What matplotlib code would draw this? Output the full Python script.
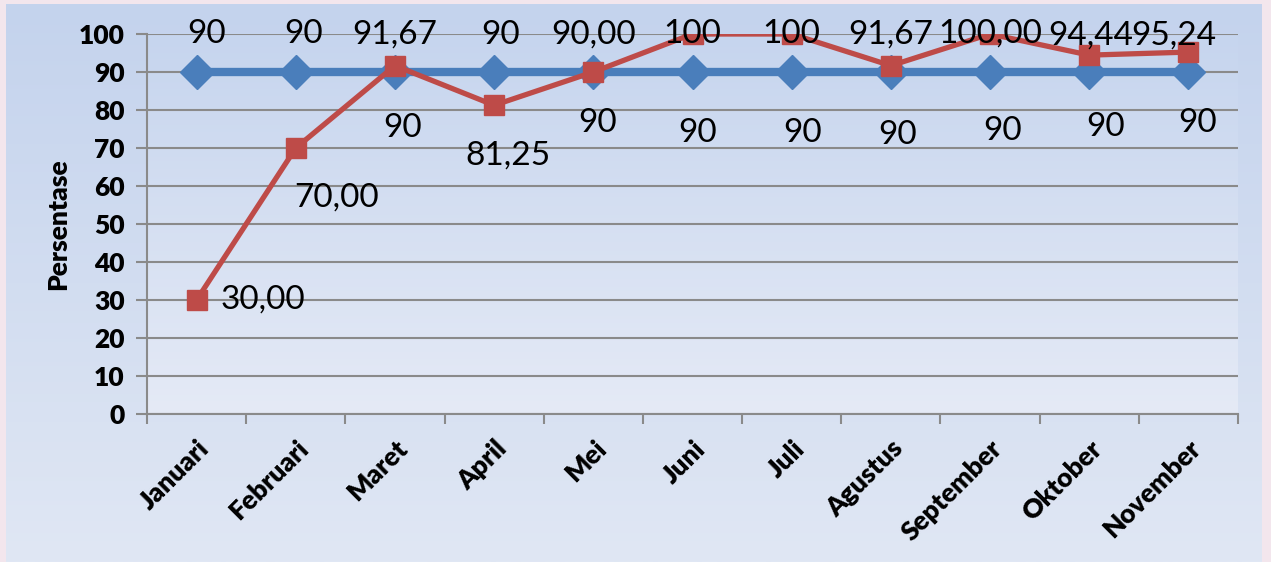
import matplotlib.pyplot as plt
import numpy as np

# data
bulan = ["Januari", "Februari", "Maret", "April", "Mei", "Juni", "Juli",
         "Agustus", "September", "Oktober", "November"]
target = [90, 90, 90, 90, 90, 90, 90, 90, 90, 90, 90]
capaian = [30.00, 70.00, 91.67, 81.25, 90.00, 100, 100, 91.67, 100.00, 94.44, 95.24]
label_target = ["90"] * 11
label_capaian = ["30,00", "70,00", "91,67", "81,25", "90,00", "100", "100",
                 "91,67", "100,00", "94,44", "95,24"]

# label offsets in pixels (style only)
off_target = [(10, 38), (8, 38), (8, -56), (6, 37), (4, -51), (5, -61),
              (11, -61), (7, -63), (13, -59), (16, -55), (9, -51)]
off_capaian = [(66, 0), (41, -50), (0, 31), (14, -50), (0, 37), (0, 0),
               (0, 0), (0, 31), (0, 0), (2, 20), (-15, 17)]

plt.rcParams['font.family'] = ['Lato', 'DejaVu Sans']

fig = plt.figure(figsize=(12.71, 5.62), dpi=100)
fig.patch.set_facecolor('#f3e6ed')

# chart background gradient
bg = fig.add_axes([6 / 1271, 0, 1256 / 1271, 558 / 562], zorder=-10)
grad = np.linspace(0, 1, 256).reshape(-1, 1)
c_top = np.array([196, 211, 237]) / 255
c_bot = np.array([224, 231, 244]) / 255
img = c_top + (c_bot - c_top) * grad[:, :, None]
bg.imshow(img, aspect='auto', extent=[0, 1, 0, 1])
bg.axis('off')

ax = fig.add_axes([147 / 1271, 1 - 414 / 562, 1091 / 1271, 380 / 562])
ax.patch.set_alpha(0)
c_top2 = np.array([198, 213, 238]) / 255
c_bot2 = np.array([229, 234, 246]) / 255
img2 = c_top2 + (c_bot2 - c_top2) * grad[:, :, None]
ax.imshow(img2, aspect='auto', extent=[-0.5, 10.5, 0, 100], zorder=0)

x = np.arange(len(bulan))
ax.plot(x, target, color='#4a7ebb', lw=6, marker='D', ms=17,
        mec='#4a7ebb', zorder=3)
ax.plot(x, capaian, color='#be4b48', lw=3.8, marker='s', ms=15,
        mec='#be4b48', zorder=4)

for i in range(len(bulan)):
    ax.annotate(label_target[i], (x[i], target[i]), xytext=off_target[i],
                textcoords='offset pixels', ha='center', va='center',
                fontsize=24, zorder=6)
    ax.annotate(label_capaian[i], (x[i], capaian[i]), xytext=off_capaian[i],
                textcoords='offset pixels', ha='center', va='center',
                fontsize=24, zorder=6)

ax.set_xlim(-0.5, 10.5)
ax.set_ylim(0, 100)
ax.set_yticks(np.arange(0, 101, 10))
ax.yaxis.grid(True, color='#8a8a8a', lw=1.5)
ax.set_axisbelow(True)
for gl in ax.get_ygridlines():
    gl.set_zorder(1)

ax.set_xticks(x)
ax.set_xticklabels(bulan, rotation=45, ha='right', rotation_mode='anchor',
                   fontsize=19, fontweight='heavy')
ax.set_xticks(np.arange(-0.5, 11, 1), minor=True)
ax.tick_params(axis='x', which='major', length=0, pad=16)
ax.tick_params(axis='x', which='minor', length=7, color='#8a8a8a', width=1.5)
ax.tick_params(axis='y', length=8, color='#8a8a8a', width=1.5,
               labelsize=19, pad=8)
for t in ax.get_yticklabels():
    t.set_fontweight('heavy')

for s in ['top', 'right']:
    ax.spines[s].set_visible(False)
for s in ['left', 'bottom']:
    ax.spines[s].set_color('#8a8a8a')
    ax.spines[s].set_linewidth(1.5)

ax.set_ylabel('Persentase', fontsize=19, fontweight='heavy', labelpad=6)

plt.savefig("out.png", dpi=100, facecolor=fig.get_facecolor())
